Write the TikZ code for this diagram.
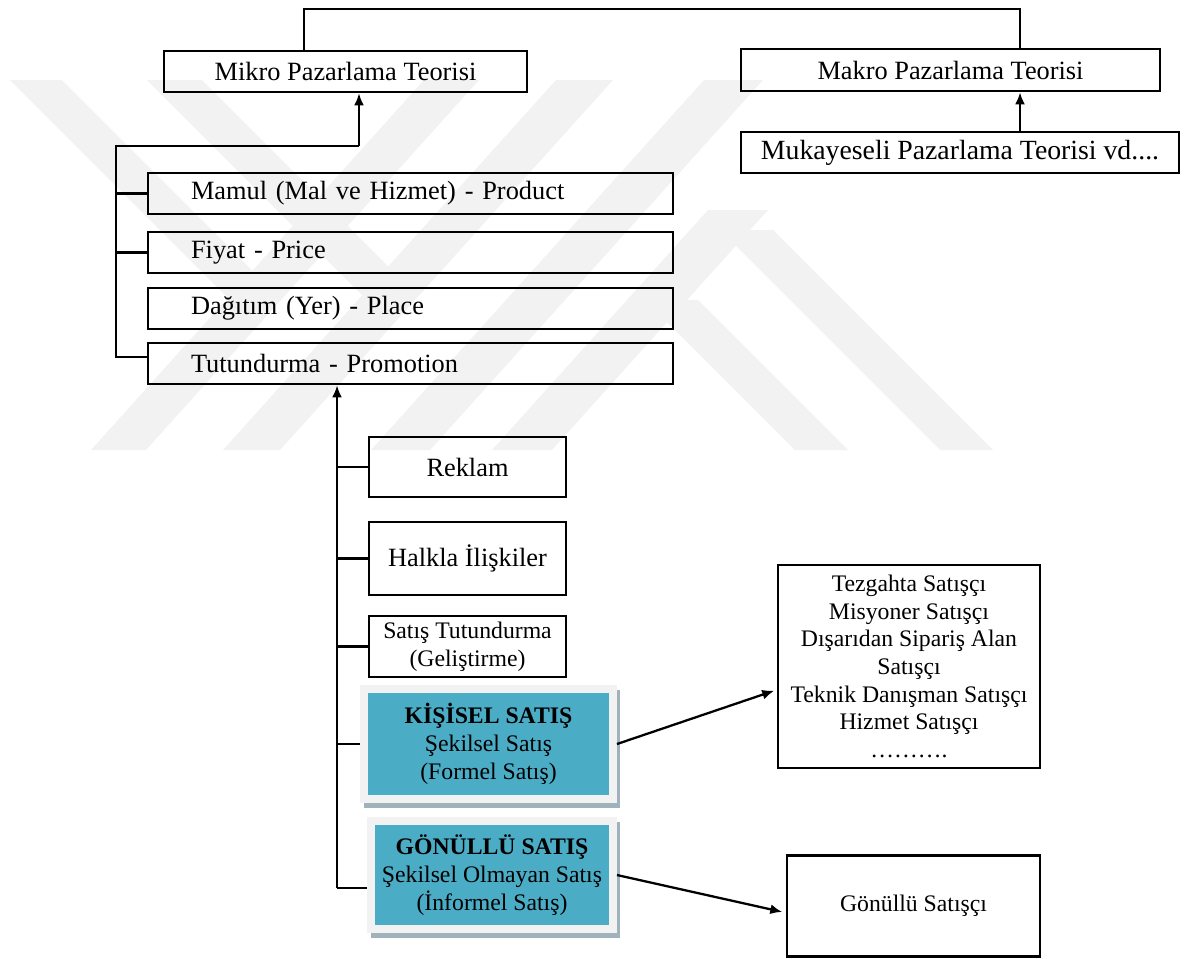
\documentclass[tikz,border=0pt]{standalone}
\usepackage{fontspec}
\setmainfont{Liberation Serif}
\usetikzlibrary{arrows.meta,positioning}
\definecolor{salesteal}{RGB}{75,172,198}
\definecolor{salesframe}{RGB}{242,242,242}
\definecolor{salesshadow}{RGB}{160,178,188}
\definecolor{markgray}{RGB}{242,242,242}
\newcommand{\bigtxt}{\fontsize{15}{18}\selectfont}
\newcommand{\smalltxt}{\fontsize{13.5}{16}\selectfont}

\begin{document}
\begin{tikzpicture}[x=0.02cm, y=-0.02cm,
    box/.style={draw, line width=1.5pt, inner sep=0pt, font=\bigtxt, align=center},
    mixbox/.style={box, minimum width=10.5cm, minimum height=0.82cm, text width=8.78cm, inner xsep=0.86cm, align=left},
    salesbox/.style={draw=salesframe, fill=salesteal, line width=0.16cm, inner sep=0pt, font=\smalltxt, align=center,
        preaction={draw=salesshadow, fill=salesshadow, transform canvas={xshift=0.07cm, yshift=-0.1cm}}},
    link/.style={line width=1.3pt},
    arr/.style={link, -{Latex[length=2.4mm, width=2mm]}}]
    \useasboundingbox (0,0) rectangle (1185,958);

    % Watermark in the background
    \fill[markgray] (10,80) -- (62,80) -- (282,300) -- (230,300) -- cycle;
    \fill[markgray] (147,80) -- (202,80) -- (417,295) -- (362,295) -- cycle;
    \fill[markgray] (424,80) -- (479,80) -- (146,450) -- (91,450) -- cycle;
    \fill[markgray] (556,80) -- (613,80) -- (280,450) -- (223,450) -- cycle;
    \fill[markgray] (704,80) -- (763,80) -- (430,450) -- (371,450) -- cycle;
    \fill[markgray] (708,210) -- (768,210) -- (552,450) -- (492,450) -- cycle;
    \fill[markgray] (645,300) -- (698,300) -- (848,450) -- (795,450) -- cycle;
    \fill[markgray] (720,230) -- (773,230) -- (993,450) -- (940,450) -- cycle;

    % Theories
    \node[box, minimum width=7.26cm, minimum height=0.82cm] (mikro) at (345.5,71.5) {Mikro Pazarlama Teorisi};
    \node[box, minimum width=8.38cm, minimum height=0.84cm] (makro) at (950.5,70) {Makro Pazarlama Teorisi};
    \node[box, minimum width=8.76cm, minimum height=0.82cm, font=\fontsize{15.8}{19}\selectfont] (mukay) at (960,152.5) {Mukayeseli Pazarlama Teorisi vd....};

    % Marketing mix
    \node[mixbox] (mamul) at (410.5,193.5) {Mamul (Mal ve Hizmet) - Product};
    \node[mixbox] (fiyat) at (410.5,252.5) {Fiyat - Price};
    \node[mixbox] (dagitim) at (410.5,308.5) {Dağıtım (Yer) - Place};
    \node[mixbox] (tutun) at (410.5,363.5) {Tutundurma - Promotion};

    % Promotion tools
    \node[box, minimum width=3.94cm, minimum height=1.2cm] (reklam) at (467.5,467) {Reklam};
    \node[box, minimum width=3.94cm, minimum height=1.46cm] (halkla) at (467.5,558.5) {Halkla İlişkiler};
    \node[box, minimum width=3.94cm, minimum height=1.22cm, font=\smalltxt] (satis) at (467.5,646.5) {Satış Tutundurma\\(Geliştirme)};
    \node[salesbox, minimum width=4.98cm, minimum height=2.2cm] (kisisel) at (488.5,744) {\textbf{KİŞİSEL SATIŞ}\\Şekilsel Satış\\(Formel Satış)};
    \node[salesbox, minimum width=4.84cm, minimum height=2.16cm] (gonullu) at (492,875) {\textbf{GÖNÜLLÜ SATIŞ}\\Şekilsel Olmayan Satış\\(İnformel Satış)};

    % Salespeople
    \node[box, minimum width=5.24cm, minimum height=4.06cm, font=\fontsize{13.5}{15.7}\selectfont] (tezgah) at (909,666.5) {Tezgahta Satışçı\\Misyoner Satışçı\\Dışarıdan Sipariş Alan\\Satışçı\\Teknik Danışman Satışçı\\Hizmet Satışçı\\……….};
    \node[box, minimum width=5.06cm, minimum height=2.02cm, font=\smalltxt] (gsat) at (913.5,906) {Gönüllü Satışçı};

    % Connectors
    \coordinate (topL) at (304,9);
    \coordinate (topR) at (1020,9);
    \draw[link] (mikro.north -| topL) -- (topL) -- (topR) -- (makro.north -| topR);
    \draw[arr] (mukay.north -| topR) -- (makro.south -| topR);

    \coordinate (mixtop) at (359,146);
    \coordinate (mixleft) at (116,146);
    \coordinate (mixend) at (116,357);
    \draw[arr] (mixtop) -- (mikro.south -| mixtop);
    \draw[link] (mixtop) -- (mixleft) -- (mixend) -- (mixend -| tutun.west);
    \foreach \n in {mamul,fiyat}
        \draw[link] (mixleft |- \n.west) -- (\n.west);

    \coordinate (promo) at (337,888);
    \draw[arr] (promo) -- (tutun.south -| promo);
    \draw[link] (promo) -- (promo -| gonullu.west);
    \foreach \n in {reklam,halkla,satis,kisisel}
        \draw[link] (promo |- \n.west) -- (\n.west);

    \draw[arr, shorten >=1.5pt] (kisisel.east) -- (tezgah.190);
    \draw[arr, shorten >=2pt] (gonullu.east) -- (gsat.183);
\end{tikzpicture}
\end{document}
